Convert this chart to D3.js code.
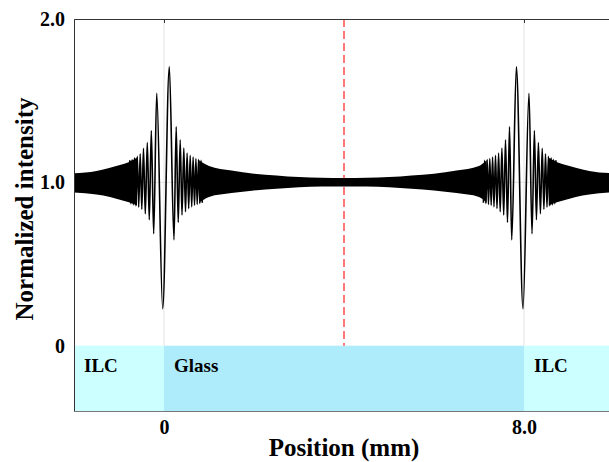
<!DOCTYPE html>
<html>
<head>
<meta charset="utf-8">
<script src="https://cdn.jsdelivr.net/npm/d3@7"></script>
<style>
  body { margin: 0; background: white; }
  svg { display: block; font-family: 'Liberation Serif', 'Times New Roman', serif; font-weight: bold; }
  .tick text { font-size: 20px; fill: black; }
  .axis-title { font-size: 25px; }
  .layer-text { font-size: 19px; }
</style>
</head>
<body>
<script>
let width = 609
let height = 462
let margin = { top: 19, left: 74, bottom: 51 }

// layers below the curve
let layerNames = ['ILC', 'Glass', 'ILC']
let layerStart = [-2, 0, 8]
let layerEnd = [0, 8, 10]
let layerColors = ['#ccffff', '#aeebfb', '#ccffff']

// ticks
let xTicks = [0, 8]
let xTickLabels = ['0', '8.0']
let yTicks = [0, 1, 2]
let yTickLabels = ['0', '1.0', '2.0']
let centerLine = 4

// dense oscillation, solid envelope (mm, upper, lower)
let bandLeftX = [-2.2, -2.0, -1.5, -1.2, -1.0, -0.8, -0.7, -0.6]
let bandLeftHi = [1.054, 1.056, 1.07, 1.09, 1.105, 1.122, 1.135, 1.15]
let bandLeftLo = [0.94, 0.938, 0.925, 0.91, 0.895, 0.88, 0.87, 0.858]

let bandMidX = [0.78, 1.0, 1.5, 2.0, 2.5, 3.0, 3.5, 4.0, 4.5, 5.0, 5.5, 6.0, 6.5, 7.0, 7.17]
let bandMidHi = [1.135, 1.10, 1.072, 1.052, 1.042, 1.032, 1.028, 1.026, 1.028, 1.032, 1.042, 1.052, 1.072, 1.10, 1.135]
let bandMidLo = [0.875, 0.91, 0.934, 0.95, 0.96, 0.97, 0.974, 0.975, 0.974, 0.97, 0.96, 0.95, 0.934, 0.91, 0.875]

let bandRightX = [8.55, 8.65, 8.75, 8.95, 9.15, 9.45, 9.95, 10.2]
let bandRightHi = [1.15, 1.135, 1.122, 1.105, 1.09, 1.07, 1.056, 1.054]
let bandRightLo = [0.858, 0.87, 0.88, 0.895, 0.91, 0.925, 0.938, 0.94]

// resolved fringes around the interfaces (mm, intensity at each extremum)
let fringeLeftX = [-0.760, -0.736, -0.709, -0.682, -0.653, -0.624, -0.593, -0.562, -0.529, -0.493,
  -0.456, -0.416, -0.371, -0.327, -0.282, -0.229, -0.162, -0.029, 0.118, 0.222,
  0.271, 0.316, 0.360, 0.400, 0.440, 0.478, 0.513, 0.549, 0.582, 0.616,
  0.647, 0.678, 0.709, 0.738, 0.767, 0.796, 0.824, 0.851]
let fringeLeftY = [1.135, 0.868, 1.14, 0.862, 1.15, 0.856, 1.16, 0.848, 1.175, 0.835,
  1.209, 0.807, 1.243, 0.771, 1.317, 0.685, 1.545, 0.226, 1.708, 0.648,
  1.341, 0.754, 1.26, 0.80, 1.21, 0.82, 1.18, 0.84, 1.165, 0.85,
  1.155, 0.86, 1.145, 0.865, 1.14, 0.87, 1.135, 0.875]

let fringeRightX = [7.098, 7.125, 7.153, 7.182, 7.211, 7.240, 7.271, 7.302, 7.333, 7.367,
  7.400, 7.436, 7.471, 7.509, 7.549, 7.589, 7.633, 7.678, 7.727, 7.831,
  7.978, 8.111, 8.178, 8.231, 8.276, 8.320, 8.365, 8.405, 8.442, 8.478,
  8.511, 8.542, 8.573, 8.602, 8.631, 8.658, 8.685, 8.709]
let fringeRightY = [0.875, 1.135, 0.87, 1.14, 0.865, 1.145, 0.86, 1.155, 0.85, 1.165,
  0.84, 1.18, 0.82, 1.21, 0.80, 1.26, 0.754, 1.341, 0.648, 1.708,
  0.226, 1.545, 0.685, 1.317, 0.771, 1.243, 0.807, 1.209, 0.835, 1.175,
  0.848, 1.16, 0.856, 1.15, 0.862, 1.14, 0.868, 1.135]

let x = d3.scaleLinear().domain([-2, 10]).range([margin.left, margin.left + 540])
let y = d3.scaleLinear().domain([-0.4, 2]).range([height - margin.bottom, margin.top])

let svg = d3.select('body')
  .append('svg')
  .attr('width', width)
  .attr('height', height)

svg.append('clipPath')
  .attr('id', 'plot-clip')
  .append('rect')
  .attr('x', x(-2))
  .attr('y', y(2))
  .attr('width', x(10) - x(-2))
  .attr('height', y(-0.4) - y(2))

//layer boxes
svg.append('g')
  .selectAll('rect')
  .data(layerNames)
  .enter()
  .append('rect')
  .attr('x', (d, i) => x(layerStart[i]))
  .attr('width', (d, i) => x(layerEnd[i]) - x(layerStart[i]))
  .attr('y', y(0))
  .attr('height', y(-0.4) - y(0))
  .attr('fill', (d, i) => layerColors[i])

svg.append('g')
  .selectAll('text')
  .data(layerNames)
  .enter()
  .append('text')
  .attr('class', 'layer-text')
  .attr('x', (d, i) => x(layerStart[i]) + 10)
  .attr('y', y(-0.16))
  .text(d => d)

//grid
svg.append('g')
  .selectAll('line')
  .data(xTicks)
  .enter()
  .append('line')
  .attr('x1', d => x(d)).attr('x2', d => x(d))
  .attr('y1', y(2)).attr('y2', y(0))
  .attr('stroke', '#e3e3e3')

svg.append('line')
  .attr('x1', x(-2)).attr('x2', x(10))
  .attr('y1', y(1)).attr('y2', y(1))
  .attr('stroke', '#e3e3e3')

//center marker
svg.append('line')
  .attr('x1', x(centerLine)).attr('x2', x(centerLine))
  .attr('y1', y(2)).attr('y2', y(0))
  .attr('stroke', '#ff4d4d')
  .attr('stroke-width', 1.5)
  .attr('stroke-dasharray', '8,4')

let plot = svg.append('g').attr('clip-path', 'url(#plot-clip)')

//solid part of the signal
let band = d3.area()
  .x(d => x(d[0]))
  .y0(d => y(d[2]))
  .y1(d => y(d[1]))
  .curve(d3.curveMonotoneX)

let bands = [
  [bandLeftX, bandLeftHi, bandLeftLo],
  [bandMidX, bandMidHi, bandMidLo],
  [bandRightX, bandRightHi, bandRightLo]
]

plot.append('g')
  .selectAll('path')
  .data(bands)
  .enter()
  .append('path')
  .attr('d', b => band(b[0].map((v, i) => [v, b[1][i], b[2][i]])))
  .attr('fill', 'black')

//fringes
let line = d3.line()
  .x(d => x(d[0]))
  .y(d => y(d[1]))
  .curve(d3.curveMonotoneX)

let fringes = [
  [fringeLeftX, fringeLeftY],
  [fringeRightX, fringeRightY]
]

plot.append('g')
  .selectAll('path')
  .data(fringes)
  .enter()
  .append('path')
  .attr('d', f => line(f[0].map((v, i) => [v, f[1][i]])))
  .attr('fill', 'none')
  .attr('stroke', 'black')
  .attr('stroke-width', 1.6)

//axes
svg.append('g')
  .attr('transform', 'translate(0,' + y(2) + ')')
  .call(d3.axisTop(x).tickValues(xTicks).tickSize(-4).tickFormat(''))
  .call(g => g.selectAll('path, line').attr('stroke', '#333'))

svg.append('g')
  .attr('transform', 'translate(0,' + y(-0.4) + ')')
  .call(d3.axisBottom(x).tickValues(xTicks).tickSize(0).tickSizeOuter(0).tickPadding(9)
    .tickFormat((d, i) => xTickLabels[i]))
  .attr('font-family', null)
  .attr('font-size', null)
  .call(g => g.select('.domain').attr('stroke', '#777'))

svg.append('g')
  .attr('transform', 'translate(' + x(-2) + ',0)')
  .call(d3.axisLeft(y).tickValues(yTicks).tickSize(0).tickSizeOuter(0).tickPadding(9)
    .tickFormat((d, i) => yTickLabels[i]))
  .attr('font-family', null)
  .attr('font-size', null)
  .call(g => g.select('.domain').attr('stroke', '#333'))

//titles
svg.append('text')
  .attr('class', 'axis-title')
  .attr('x', 344)
  .attr('y', 456)
  .attr('text-anchor', 'middle')
  .text('Position (mm)')

svg.append('text')
  .attr('class', 'axis-title')
  .attr('transform', 'translate(33,' + 209 + ') rotate(-90)')
  .attr('text-anchor', 'middle')
  .text('Normalized intensity')
</script>
</body>
</html>
